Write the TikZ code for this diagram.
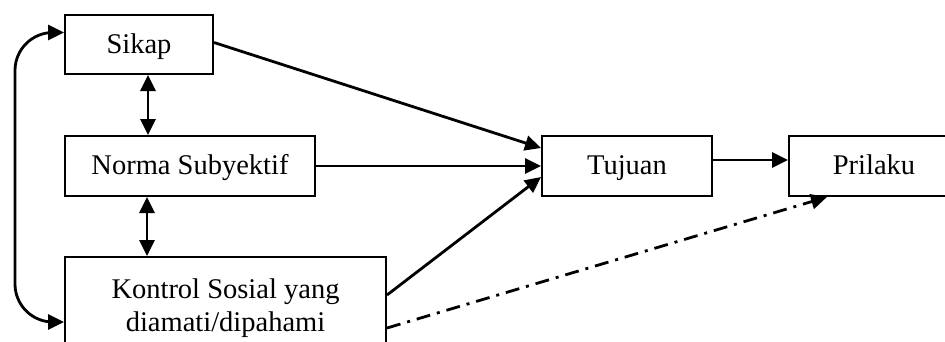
\documentclass[tikz,border=0pt]{standalone}
\usepackage{fontspec}
\setmainfont{Liberation Serif}
\usetikzlibrary{arrows.meta,calc}
\begin{document}
\begin{tikzpicture}[x=1pt,y=-1pt,
  box/.style={draw,line width=2pt,rectangle,inner sep=0pt,align=center,
    font=\fontsize{28.5}{32.5}\selectfont},
  one/.style={text height=21pt,text depth=4pt},
  arr/.style={line width=2.8pt,-{Triangle[length=16pt,width=15pt]}},
  darr/.style={line width=2.8pt,{Triangle[length=16pt,width=15pt]}-{Triangle[length=16pt,width=15pt]}},
  dashdot/.style={line width=2.8pt,dash pattern=on 14pt off 7pt on 3pt off 7pt,-{Triangle[length=16pt,width=15pt]}}]
\useasboundingbox (0,0) rectangle (945,341);
\node[box,one,minimum width=148pt,minimum height=59pt] (sikap) at (139,44.5) {Sikap};
\node[box,one,minimum width=250pt,minimum height=60pt] (norma) at (190,166) {Norma Subyektif};
\node[box,minimum width=321pt,minimum height=102pt] (kontrol) at (225.5,308) {Kontrol Sosial yang\\diamati/dipahami};
\node[box,one,minimum width=170pt,minimum height=60pt] (tujuan) at (627,166) {Tujuan};
\node[box,one,minimum width=170pt,minimum height=60pt] (prilaku) at (874,166) {Prilaku};
\coordinate (v1) at (148,0);
\coordinate (v2) at (147,0);
\coordinate (lft) at (15,0);
\draw[darr] (sikap.south -| v1) -- (norma.north -| v1);
\draw[darr] (norma.south -| v2) -- (kontrol.north -| v2);
\draw[darr,rounded corners=38pt] ($(sikap.west)+(0,-12)$) -| (lft |- norma.west) |- ($(kontrol.west)+(0,14)$);
\draw[arr] ($(sikap.east)+(0,-2)$) -- ($(tujuan.west)+(0,-18)$);
\draw[arr] (norma.east) -- (tujuan.west);
\draw[arr] ($(kontrol.east)+(0,-13)$) -- ($(tujuan.west)+(0,11)$);
\draw[arr] ($(tujuan.east)+(0,-6)$) -- ($(prilaku.west)+(0,-6)$);
\draw[dashdot] ($(kontrol.east)+(0,20)$) -- ($(prilaku.south)+(-47,0)$);
\end{tikzpicture}
\end{document}
